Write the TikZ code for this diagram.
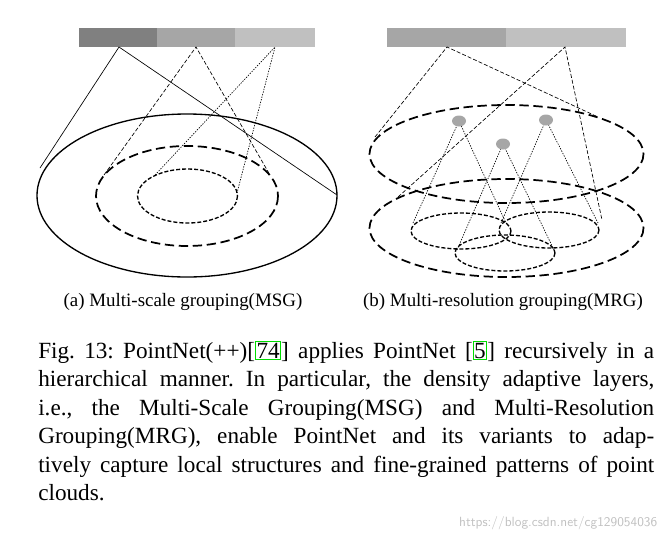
\documentclass[tikz,border=0pt]{standalone}
\usepackage{fontspec}
\setmainfont{Liberation Serif}
\usetikzlibrary{calc}
\definecolor{gA}{HTML}{808080}\definecolor{gB}{HTML}{A6A6A6}\definecolor{gC}{HTML}{C0C0C0}
\definecolor{cite}{HTML}{00DD00}
\newcommand{\cbox}[1]{\setlength{\fboxsep}{0.5pt}\setlength{\fboxrule}{0.6pt}{\color{cite}\fbox{\color{black}#1}}}
\frenchspacing
\begin{document}
\begin{tikzpicture}[x=0.75pt,y=-0.75pt,
  sol/.style={line width=0.5pt},
  dsh/.style={line width=0.5pt,dash pattern=on 3pt off 1.5pt},
  dot/.style={line width=0.5pt,dash pattern=on 1pt off 1pt},
  bigd/.style={line width=1.3pt,dash pattern=on 7pt off 3.5pt},
  medd/.style={line width=1pt,dash pattern=on 3pt off 1.5pt},
  seed/.style={fill=gB,draw=none}]
\useasboundingbox (0,0) rectangle (670,543);
% left bar
\fill[gA] (79,28) rectangle (157,47);
\fill[gB] (157,28) rectangle (235,47);
\fill[gC] (235,28) rectangle (315,47);
\coordinate (a1) at (119,47);\coordinate (a2) at (196,47);\coordinate (a3) at (275,47);
\draw[line width=1pt] (187,195.5) ellipse [x radius=150,y radius=81.5];
\draw[bigd] (187,196) ellipse [x radius=91,y radius=50];
\draw[medd] (187.5,196) ellipse [x radius=50,y radius=27];
\coordinate (l1) at (40,168);\coordinate (r1) at (337,195);
\coordinate (l2) at (104,175);\coordinate (r2) at (270,175);
\coordinate (l3) at (155,175);\coordinate (r3) at (237,193);
\draw[sol] (l1)--(a1)--(r1);
\draw[dsh] (l2)--(a2)--(r2);
\draw[dot] (l3)--(a3)--(r3);
% right bar
\fill[gB] (387,28) rectangle (506,47);
\fill[gC] (506,28) rectangle (626,47);
\coordinate (b1) at (447,47);\coordinate (b2) at (565,47);
\draw[bigd] (506.5,154) ellipse [x radius=137,y radius=49];
\draw[bigd] (506.5,228) ellipse [x radius=137,y radius=49];
\draw[medd] (461,231) ellipse [x radius=50,y radius=18];
\draw[medd] (549,230) ellipse [x radius=50,y radius=18];
\draw[medd] (505,253) ellipse [x radius=50,y radius=18];
\coordinate (p1) at (459,121);\coordinate (p2) at (546,120);\coordinate (p3) at (503,144);
\draw[dsh] (375,137)--(b1)--(598,117);
\draw[dsh] (398,197)--(b2)--(602,220);
\draw[dot] (413,223)--(p1)--(506,223);
\draw[dot] (501,223)--(p2)--(598,223);
\draw[dot] (457,250)--(p3)--(554,250);
\fill[seed] (p1) ellipse [x radius=7,y radius=5.5];
\fill[seed] (p2) ellipse [x radius=7,y radius=5.5];
\fill[seed] (p3) ellipse [x radius=7,y radius=5.5];
% captions
\node[font=\fontsize{14.2}{16}\selectfont] (ca) at (183,302) {(a) Multi-scale grouping(MSG)};
\node[font=\fontsize{14.2}{16}\selectfont] (cb) at (503,302) {(b) Multi-resolution grouping(MRG)};
\node[anchor=north west,inner sep=0pt,text width=462pt,align=justify,
  font=\fontsize{17.4}{21.4}\selectfont] (txt) at (38,341) {Fig. 13: PointNet(++)[\cbox{74}] applies PointNet [\cbox{5}] recursively in a\linebreak
hierarchical manner. In particular, the density adaptive layers,\linebreak
i.e., the Multi-Scale Grouping(MSG) and Multi-Resolution\linebreak
Grouping(MRG), enable PointNet and its variants to adap-\linebreak
tively capture local structures and fine-grained patterns of point\linebreak
clouds.};
\node[anchor=east,text=gC,font=\fontsize{10}{11}\selectfont\sffamily] (wm) at (662,523) {https://blog.csdn.net/cg129054036};
\end{tikzpicture}
\end{document}
